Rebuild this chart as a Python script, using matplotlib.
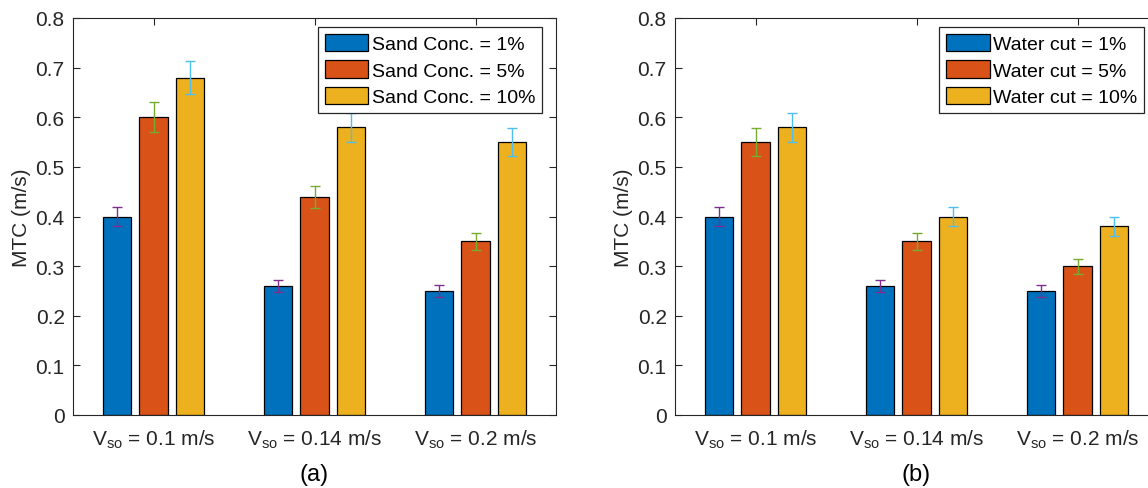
import numpy as np
from matplotlib import pyplot as plt

plt.rcParams['font.family'] = ['Liberation Sans', 'DejaVu Sans']
plt.rcParams['mathtext.fontset'] = 'custom'
plt.rcParams['mathtext.rm'] = 'Liberation Sans'
plt.rcParams['mathtext.it'] = 'Liberation Sans:italic'

# Data
groups = ['V$_{\\rm so}$ = 0.1 m/s', 'V$_{\\rm so}$ = 0.14 m/s', 'V$_{\\rm so}$ = 0.2 m/s']

sand_labels = ['Sand Conc. = 1%', 'Sand Conc. = 5%', 'Sand Conc. = 10%']
sand_1 = [0.40, 0.26, 0.25]
sand_5 = [0.60, 0.44, 0.35]
sand_10 = [0.68, 0.58, 0.55]
sand_err_1 = [0.020, 0.013, 0.0125]
sand_err_5 = [0.030, 0.022, 0.0175]
sand_err_10 = [0.034, 0.029, 0.0275]

water_labels = ['Water cut = 1%', 'Water cut = 5%', 'Water cut = 10%']
water_1 = [0.40, 0.26, 0.25]
water_5 = [0.55, 0.35, 0.30]
water_10 = [0.58, 0.40, 0.38]
water_err_1 = [0.020, 0.013, 0.0125]
water_err_5 = [0.0275, 0.0175, 0.015]
water_err_10 = [0.029, 0.020, 0.019]

bar_colors = ['#0072BD', '#D95319', '#EDB120']
err_colors = ['#7E2F8E', '#77AC30', '#4DBEEE']
ink = '#262626'
fs = 15


def draw_panel(ax, series, errors, labels, tag):
    x = np.arange(1, len(groups) + 1)
    offsets = [-0.225, 0, 0.225]
    handles = []
    for vals, errs, off, bc, ec, lab in zip(series, errors, offsets, bar_colors, err_colors, labels):
        h = ax.bar(x + off, vals, width=0.175, color=bc, edgecolor='black',
                   linewidth=0.9, label=lab, zorder=2)
        ax.errorbar(x + off, vals, yerr=errs, fmt='none', ecolor=ec,
                    elinewidth=1.0, capsize=3.5, capthick=1.0, zorder=3)
        handles.append(h)

    ax.set_xlim(0.5, 3.5)
    ax.set_ylim(0, 0.8)
    ax.set_xticks(x)
    ax.set_xticklabels(groups)
    ax.set_yticks(np.arange(0, 0.81, 0.1))
    ax.set_yticklabels(['0'] + ['%.1f' % v for v in np.arange(0.1, 0.81, 0.1)])
    ax.tick_params(axis='both', direction='in', length=5, width=0.8,
                   labelsize=fs, colors=ink, top=True, right=True)
    ax.tick_params(axis='x', pad=9)
    ax.tick_params(axis='y', pad=6)
    for s in ax.spines.values():
        s.set_color(ink)
        s.set_linewidth(0.8)

    ax.set_ylabel('MTC (m/s)', fontsize=fs, color=ink)
    ax.yaxis.set_label_coords(-0.087, 0.5)
    ax.text(0.5, -0.149, tag, transform=ax.transAxes, ha='center', va='center',
            fontsize=17, color='black')

    leg = ax.legend(handles=handles, loc='upper right', bbox_to_anchor=(0.972, 0.977),
                    fontsize=14, handlelength=2.25, handleheight=1.0, handletextpad=0.2,
                    labelspacing=0.36, borderpad=0.35, borderaxespad=0,
                    fancybox=False, framealpha=1)
    leg.get_frame().set_edgecolor(ink)
    leg.get_frame().set_linewidth(0.9)


fig = plt.figure(figsize=(11.48, 4.89), dpi=100)
ax1 = fig.add_axes([73 / 1148, 73 / 489, 483 / 1148, 397 / 489])
ax2 = fig.add_axes([675 / 1148, 73 / 489, 483 / 1148, 397 / 489])

draw_panel(ax1, [sand_1, sand_5, sand_10], [sand_err_1, sand_err_5, sand_err_10],
           sand_labels, '(a)')
draw_panel(ax2, [water_1, water_5, water_10], [water_err_1, water_err_5, water_err_10],
           water_labels, '(b)')

fig.savefig('out.png', dpi=100)
